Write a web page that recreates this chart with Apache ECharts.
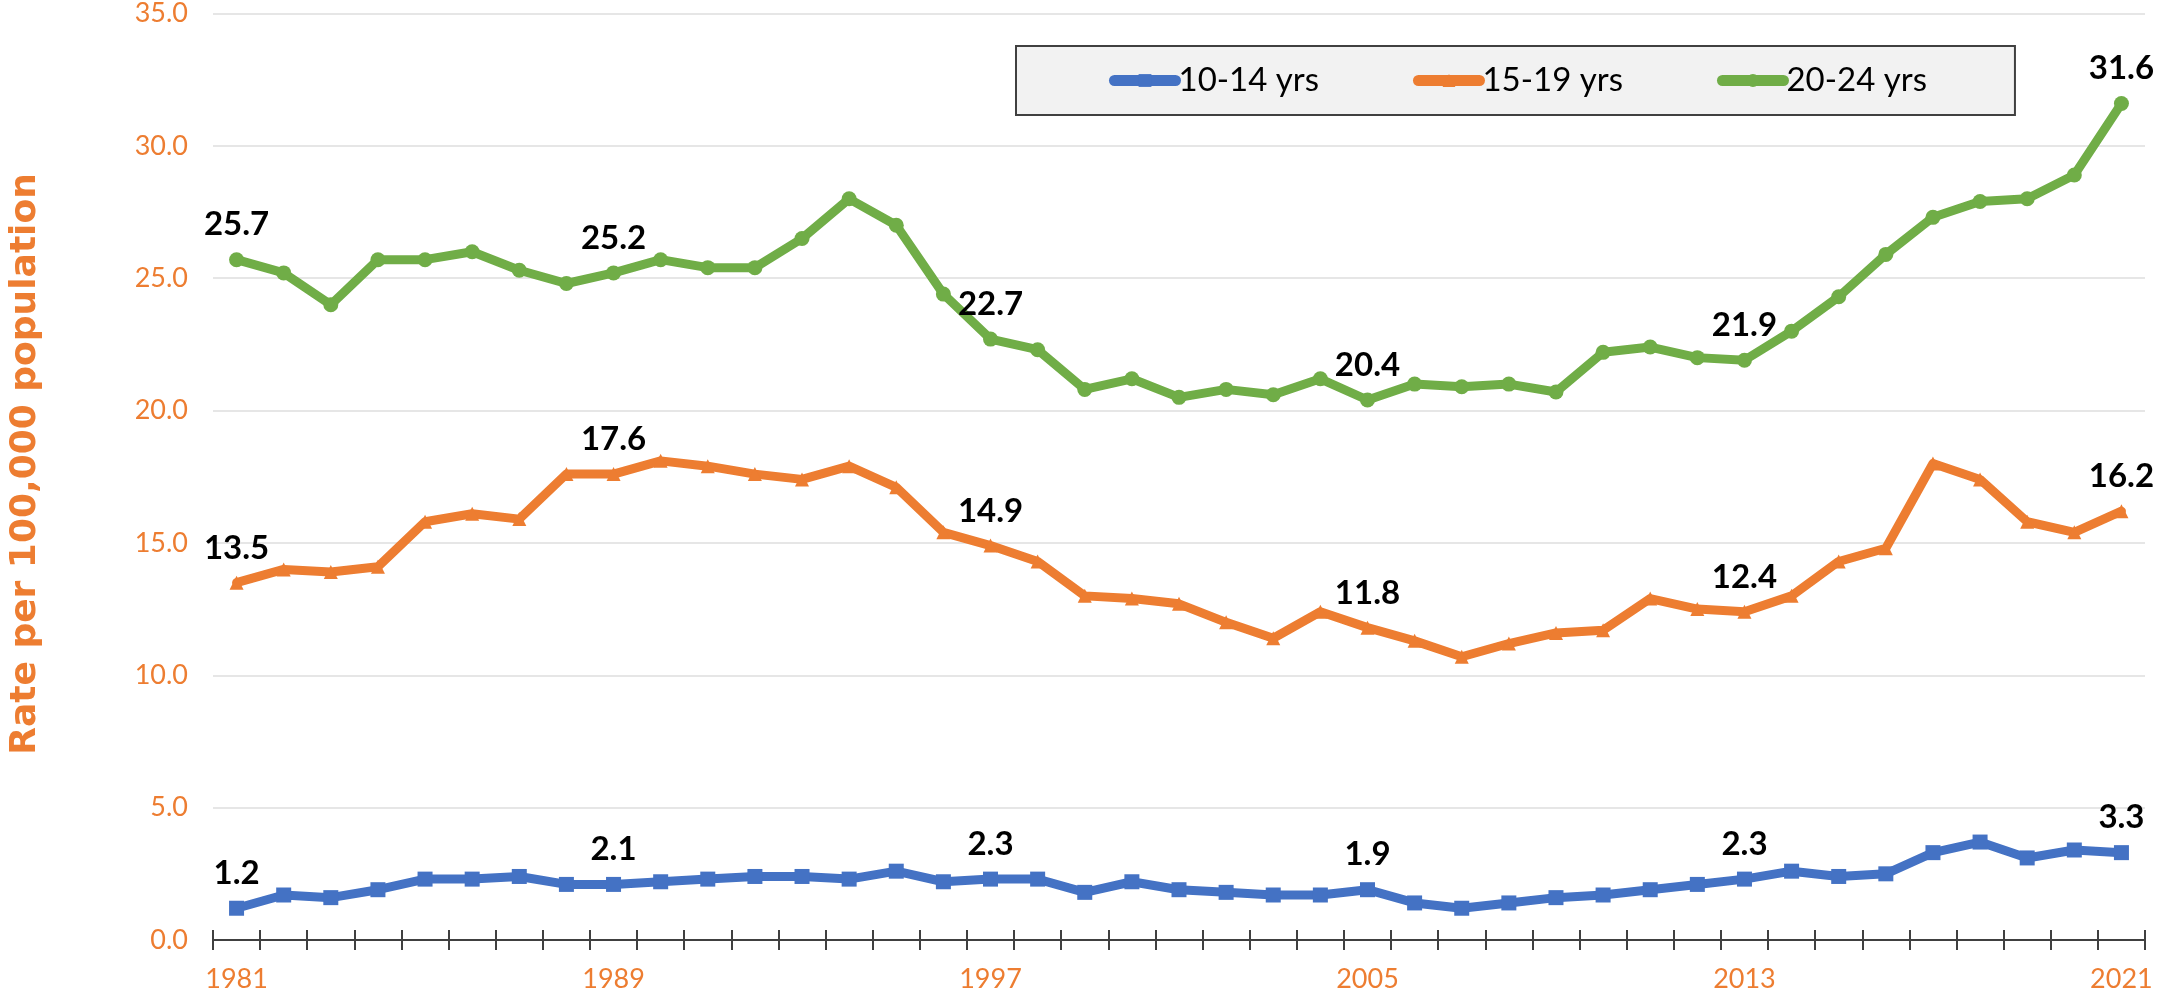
<!DOCTYPE html>
<html>
<head>
<meta charset="utf-8">
<script src="https://cdn.jsdelivr.net/npm/echarts@6/dist/echarts.min.js"></script>
<style>
  html, body { margin: 0; padding: 0; background: #fff; }
  #main { width: 2157px; height: 998px; }
</style>
</head>
<body>
<div id="main"></div>
<script>
// years on the x axis
var years = ['1981','1982','1983','1984','1985','1986','1987','1988','1989','1990',
             '1991','1992','1993','1994','1995','1996','1997','1998','1999','2000',
             '2001','2002','2003','2004','2005','2006','2007','2008','2009','2010',
             '2011','2012','2013','2014','2015','2016','2017','2018','2019','2020',
             '2021'];

// rate per 100,000, by age group
var age10_14 = [1.2, 1.7, 1.6, 1.9, 2.3, 2.3, 2.4, 2.1, 2.1, 2.2,
                2.3, 2.4, 2.4, 2.3, 2.6, 2.2, 2.3, 2.3, 1.8, 2.2,
                1.9, 1.8, 1.7, 1.7, 1.9, 1.4, 1.2, 1.4, 1.6, 1.7,
                1.9, 2.1, 2.3, 2.6, 2.4, 2.5, 3.3, 3.7, 3.1, 3.4,
                3.3];
var age15_19 = [13.5, 14.0, 13.9, 14.1, 15.8, 16.1, 15.9, 17.6, 17.6, 18.1,
                17.9, 17.6, 17.4, 17.9, 17.1, 15.4, 14.9, 14.3, 13.0, 12.9,
                12.7, 12.0, 11.4, 12.4, 11.8, 11.3, 10.7, 11.2, 11.6, 11.7,
                12.9, 12.5, 12.4, 13.0, 14.3, 14.8, 18.0, 17.4, 15.8, 15.4,
                16.2];
var age20_24 = [25.7, 25.2, 24.0, 25.7, 25.7, 26.0, 25.3, 24.8, 25.2, 25.7,
                25.4, 25.4, 26.5, 28.0, 27.0, 24.4, 22.7, 22.3, 20.8, 21.2,
                20.5, 20.8, 20.6, 21.2, 20.4, 21.0, 20.9, 21.0, 20.7, 22.2,
                22.4, 22.0, 21.9, 23.0, 24.3, 25.9, 27.3, 27.9, 28.0, 28.9,
                31.6];

var seriesNames = ['10-14 yrs', '15-19 yrs', '20-24 yrs'];
var colors = ['#4472C4', '#ED7D31', '#70AD47'];
var symbols = ['rect', 'triangle', 'circle'];
var labelEvery = 8;

var orange = '#ED7D31';
var font = 'Lato';

var myChart = echarts.init(document.getElementById('main'));

// only every 8th year gets a value label
function makeSeries(name, data, idx) {
    return {
        name: name,
        type: 'line',
        data: data,
        xAxisIndex: 0,
        symbol: symbols[idx],
        symbolSize: idx === 1 ? 14 : 15,
        lineStyle: { width: 9, color: colors[idx], cap: 'round', join: 'round' },
        itemStyle: { color: colors[idx] },
        label: {
            show: true,
            position: 'top',
            distance: 11,
            fontFamily: font,
            fontWeight: 'bold',
            fontSize: 33,
            color: '#000',
            formatter: function (p) {
                return p.dataIndex % labelEvery === 0 ? p.value.toFixed(1) : '';
            }
        },
        emphasis: { disabled: true }
    };
}

var option = {
    animation: false,
    backgroundColor: '#fff',
    grid: { left: 213, right: 12, top: 13, bottom: 58 },
    legend: {
        data: seriesNames,
        left: 1016,
        top: 46,
        padding: [18, 88, 18, 93],
        itemGap: 94,
        itemWidth: 61,
        itemHeight: 16,
        backgroundColor: '#F2F2F2',
        borderColor: '#404040',
        borderWidth: 2,
        lineStyle: { width: 11, cap: 'round' },
        textStyle: { fontFamily: font, fontSize: 33, color: '#000', padding: [0, 0, 0, -2] }
    },
    graphic: [{
        type: 'text',
        x: 26,
        y: 464,
        rotation: Math.PI / 2,
        style: {
            text: 'Rate per 100,000 population',
            fill: orange,
            font: 'bold 36px "DejaVu Sans"',
            align: 'center',
            verticalAlign: 'middle'
        }
    }],
    xAxis: [
        {
            type: 'category',
            data: years,
            boundaryGap: true,
            axisLine: { show: true, lineStyle: { color: '#404040', width: 2 } },
            axisTick: { show: true, interval: 0, length: 10, lineStyle: { color: '#404040', width: 2 } },
            axisLabel: {
                interval: labelEvery - 1,
                margin: 26,
                fontFamily: font,
                fontSize: 27,
                color: orange
            },
            splitLine: { show: false }
        },
        {
            // second copy only for the upper half of the crossing ticks
            type: 'category',
            data: years,
            position: 'bottom',
            boundaryGap: true,
            axisLine: { show: false },
            axisTick: { show: true, inside: true, interval: 0, length: 10, lineStyle: { color: '#404040', width: 2 } },
            axisLabel: { show: false },
            splitLine: { show: false }
        }
    ],
    yAxis: {
        type: 'value',
        min: 0,
        max: 35,
        interval: 5,
        axisLine: { show: false },
        axisTick: { show: false },
        axisLabel: {
            margin: 25,
            fontFamily: font,
            fontSize: 27,
            color: orange,
            formatter: function (v) { return v.toFixed(1); }
        },
        splitLine: { lineStyle: { color: '#E6E6E6', width: 2 } }
    },
    series: [
        makeSeries(seriesNames[0], age10_14, 0),
        makeSeries(seriesNames[1], age15_19, 1),
        makeSeries(seriesNames[2], age20_24, 2)
    ]
};

myChart.setOption(option);
</script>
</body>
</html>
